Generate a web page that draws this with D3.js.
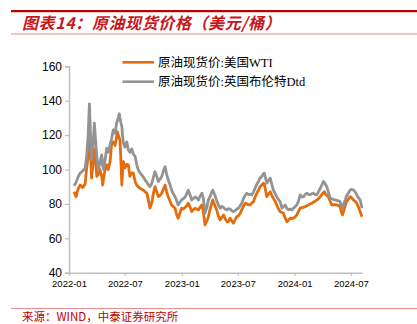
<!DOCTYPE html>
<html><head><meta charset="utf-8">
<script src="https://cdn.jsdelivr.net/npm/d3@7/dist/d3.min.js"></script>
<style>
html,body{margin:0;padding:0;background:#fff;}
svg{display:block;}
</style></head>
<body>
<svg id="chart" width="417" height="324"></svg>
<script>
const title = "图表14：原油现货价格（美元/桶）";
const source = "来源：WIND，中泰证券研究所";
const seriesNames = ["原油现货价:美国WTI", "原油现货价:英国布伦特Dtd"];
const yTicks = [40, 60, 80, 100, 120, 140, 160];
const xTickLabels = ["2022-01", "2022-07", "2023-01", "2023-07", "2024-01", "2024-07"];
const xDomain = ["2022-01-01", "2024-08-06"];

const dates = [
"2022-01-17","2022-01-24","2022-01-30","2022-02-06","2022-02-14","2022-02-22","2022-02-27","2022-03-04","2022-03-08","2022-03-12",
"2022-03-15","2022-03-20","2022-03-24","2022-03-28","2022-04-01","2022-04-06","2022-04-11","2022-04-17","2022-04-20","2022-04-23",
"2022-04-28","2022-05-03","2022-05-08","2022-05-14","2022-05-19","2022-05-24","2022-05-30","2022-06-04","2022-06-06","2022-06-13",
"2022-06-15","2022-06-18","2022-06-21","2022-06-23","2022-06-26","2022-07-01","2022-07-07","2022-07-12","2022-07-17","2022-07-23",
"2022-07-28","2022-08-03","2022-08-08","2022-08-13","2022-08-19","2022-08-24","2022-08-30","2022-09-04","2022-09-10","2022-09-15",
"2022-09-20","2022-09-26","2022-10-01","2022-10-06","2022-10-12","2022-10-17","2022-10-23","2022-10-28","2022-11-02","2022-11-08",
"2022-11-13","2022-11-18","2022-11-24","2022-11-29","2022-12-04","2022-12-10","2022-12-15","2022-12-20","2022-12-26","2022-12-31",
"2023-01-06","2023-01-12","2023-01-17","2023-01-22","2023-01-28","2023-02-02","2023-02-07","2023-02-13","2023-02-18","2023-02-24",
"2023-03-01","2023-03-07","2023-03-12","2023-03-17","2023-03-23","2023-03-28","2023-04-04","2023-04-11","2023-04-18","2023-04-24",
"2023-04-29","2023-05-05","2023-05-10","2023-05-16","2023-05-21","2023-05-27","2023-06-01","2023-06-06","2023-06-12","2023-06-17",
"2023-06-22","2023-06-28","2023-07-03","2023-07-09","2023-07-14","2023-07-19","2023-07-25","2023-07-30","2023-08-04","2023-08-10",
"2023-08-15","2023-08-21","2023-08-26","2023-09-01","2023-09-06","2023-09-11","2023-09-17","2023-09-22","2023-09-25","2023-09-29",
"2023-10-03","2023-10-08","2023-10-14","2023-10-19","2023-10-24","2023-10-30","2023-11-04","2023-11-10","2023-11-15","2023-11-21",
"2023-11-26","2023-12-01","2023-12-07","2023-12-12","2023-12-18","2023-12-23","2023-12-28","2024-01-03","2024-01-08","2024-01-13",
"2024-01-19","2024-01-24","2024-01-30","2024-02-04","2024-02-10","2024-02-15","2024-02-20","2024-02-26","2024-03-02","2024-03-07",
"2024-03-13","2024-03-18","2024-03-24","2024-03-29","2024-04-03","2024-04-06","2024-04-09","2024-04-14","2024-04-19","2024-04-25",
"2024-04-30","2024-05-06","2024-05-11","2024-05-17","2024-05-22","2024-05-27","2024-05-30","2024-06-04","2024-06-08","2024-06-13",
"2024-06-16","2024-06-22","2024-06-29","2024-07-04","2024-07-09","2024-07-15","2024-07-20","2024-07-26","2024-07-31","2024-08-03",
"2024-08-06"];

const wti = [
87.1,84.2,88.5,91.0,89.5,91.5,100.5,107.5,120.0,108.0,
95.0,104.0,112.0,105.0,96.0,97.0,100.0,96.0,91.0,95.0,
100.0,102.7,100.0,104.6,115.3,116.0,114.0,119.0,122.0,118.0,
117.2,105.0,91.0,98.0,104.6,100.9,103.0,102.7,96.0,98.0,
98.0,93.0,91.0,90.0,89.0,88.5,88.0,87.0,86.2,82.0,
77.5,81.0,86.0,90.0,87.0,84.2,85.0,86.2,88.5,91.0,
87.0,84.2,81.5,79.4,78.5,77.5,74.0,71.7,74.5,77.5,
77.0,78.0,79.0,80.4,78.0,75.5,76.5,77.5,77.0,76.5,
78.0,79.4,75.0,67.8,70.0,72.6,78.0,82.3,79.0,76.5,
73.0,70.7,72.0,73.6,71.5,69.7,69.7,71.7,70.0,68.8,
70.7,72.6,73.0,74.6,76.5,78.5,80.4,80.0,79.5,79.4,
80.5,81.3,84.0,86.2,88.0,90.0,91.0,92.0,91.5,88.0,
84.2,85.5,87.1,85.0,83.3,81.5,79.4,77.0,75.5,75.0,
74.6,72.0,69.7,70.5,71.7,71.5,71.7,72.5,73.6,75.5,
77.5,77.8,78.0,78.4,79.0,79.4,80.0,80.4,81.0,81.5,
82.3,83.0,84.2,85.5,86.5,87.1,86.0,85.0,84.2,81.5,
79.4,79.5,79.5,79.4,79.0,78.4,76.0,73.6,76.0,79.4,
81.0,82.5,84.2,83.5,82.3,81.5,80.4,78.0,75.5,74.0,
72.6];

const brent = [
90.5,92.5,95.5,97.9,99.0,100.8,107.5,120.0,138.2,118.0,
105.6,115.0,127.0,117.0,107.5,99.8,104.0,108.5,102.0,100.0,
106.0,112.4,110.0,114.3,118.0,123.0,121.0,127.0,128.0,132.4,
130.0,127.0,125.0,120.0,115.3,113.0,116.0,111.4,110.0,112.0,
109.0,107.5,103.0,99.8,98.0,96.9,95.5,94.0,92.5,91.0,
90.0,92.0,95.5,98.8,96.0,93.0,94.5,95.9,99.0,101.7,
97.0,94.0,91.0,88.0,86.0,84.2,82.0,79.4,81.0,82.3,
83.0,84.0,86.0,88.0,85.0,82.3,83.0,84.0,83.5,82.3,
84.5,86.2,83.0,74.6,78.0,82.3,85.0,88.0,85.0,82.0,
79.5,77.5,78.5,78.0,77.0,76.5,77.3,77.0,76.0,75.5,
76.0,77.0,77.5,79.0,80.4,83.0,85.0,86.2,85.5,85.5,
85.2,87.0,89.1,91.5,93.0,95.0,96.0,97.5,97.9,95.0,
92.0,93.5,95.0,91.5,88.1,86.0,84.2,82.5,81.3,77.5,
78.5,79.4,77.5,76.5,77.0,76.5,77.5,78.4,79.5,81.3,
85.2,84.0,84.2,85.5,86.2,85.5,85.2,86.0,86.2,85.5,
85.2,87.0,89.1,91.0,93.0,92.5,91.5,90.1,87.0,83.3,
83.0,82.5,82.3,82.0,81.8,81.3,79.5,77.5,80.0,82.5,
84.2,86.0,88.1,88.5,88.1,87.0,85.2,83.5,82.3,80.0,
77.5];

const colors = ["#e46c0a", "#939393"];

const svg = d3.select("#chart");
const parse = d3.timeParse("%Y-%m-%d");
const x = d3.scaleTime().domain(xDomain.map(parse)).range([69, 362]);
const y = d3.scaleLinear().domain([40, 160]).range([272.7, 66.3]);

// header
svg.append("rect").attr("x", 11).attr("y", 10).attr("width", 406).attr("height", 2.2).attr("fill", "#c00000");
svg.append("text").attr("x", 22).attr("y", 29)
  .attr("font-family", "'Noto Sans CJK SC', sans-serif")
  .attr("font-size", 16).attr("font-weight", "bold").attr("font-style", "italic")
  .attr("letter-spacing", 0.6)
  .attr("fill", "#c8161d").text(title);
svg.append("rect").attr("x", 11).attr("y", 33.5).attr("width", 406).attr("height", 1).attr("fill", "#ec8c8c");

// footer
svg.append("rect").attr("x", 11).attr("y", 308).attr("width", 406).attr("height", 1).attr("fill", "#ec8c8c");
svg.append("text").attr("x", 22).attr("y", 320.5)
  .attr("font-family", "'Noto Sans CJK SC', sans-serif")
  .attr("font-size", 11.5).attr("fill", "#c00000").text(source);

// axes
const yAxis = d3.axisLeft(y).tickValues(yTicks).tickSize(4).tickPadding(3);
const gy = svg.append("g").attr("transform", "translate(69,0)").call(yAxis);
gy.select(".domain").attr("stroke", "#bfbfbf").attr("stroke-width", 1.5);
gy.selectAll(".tick line").attr("stroke", "#bfbfbf").attr("stroke-width", 1.2);
gy.selectAll(".tick text").attr("font-family", "'Liberation Sans', Arial, sans-serif")
  .attr("font-size", 12).attr("fill", "#000");

const xTickDates = xTickLabels.map(s => parse(s + "-01"));
const xAxis = d3.axisBottom(x).tickValues(xTickDates).tickFormat((d, i) => xTickLabels[i]).tickSize(3).tickSizeOuter(0).tickPadding(5);
const gx = svg.append("g").attr("transform", "translate(0,272.7)").call(xAxis);
gx.select(".domain").attr("stroke", "#bfbfbf").attr("stroke-width", 1.5);
gx.selectAll(".tick line").attr("stroke", "#bfbfbf").attr("stroke-width", 1.2);
gx.selectAll(".tick text").attr("font-family", "'Liberation Sans', Arial, sans-serif")
  .attr("font-size", 9.5).attr("fill", "#000");

// lines
const data = dates.map((d, i) => ({date: parse(d), v: [wti[i], brent[i]]}));
[0, 1].forEach(k => {
  const line = d3.line().x(d => x(d.date)).y(d => y(d.v[k]));
  svg.append("path").datum(data).attr("d", line)
    .attr("fill", "none").attr("stroke", colors[k]).attr("stroke-width", 2.8)
    .attr("stroke-linejoin", "round");
});

// legend
const legendY = [62.3, 81.7];
seriesNames.forEach((name, k) => {
  svg.append("line").attr("x1", 122.5).attr("x2", 154).attr("y1", legendY[k]).attr("y2", legendY[k])
    .attr("stroke", colors[k]).attr("stroke-width", 2.6);
  svg.append("text").attr("x", 158).attr("y", legendY[k]).attr("dy", "0.35em")
    .attr("font-family", "'Liberation Serif', 'Noto Sans CJK SC', serif")
    .attr("font-size", 12.5).attr("fill", "#000").text(name);
});
</script>
</body></html>
